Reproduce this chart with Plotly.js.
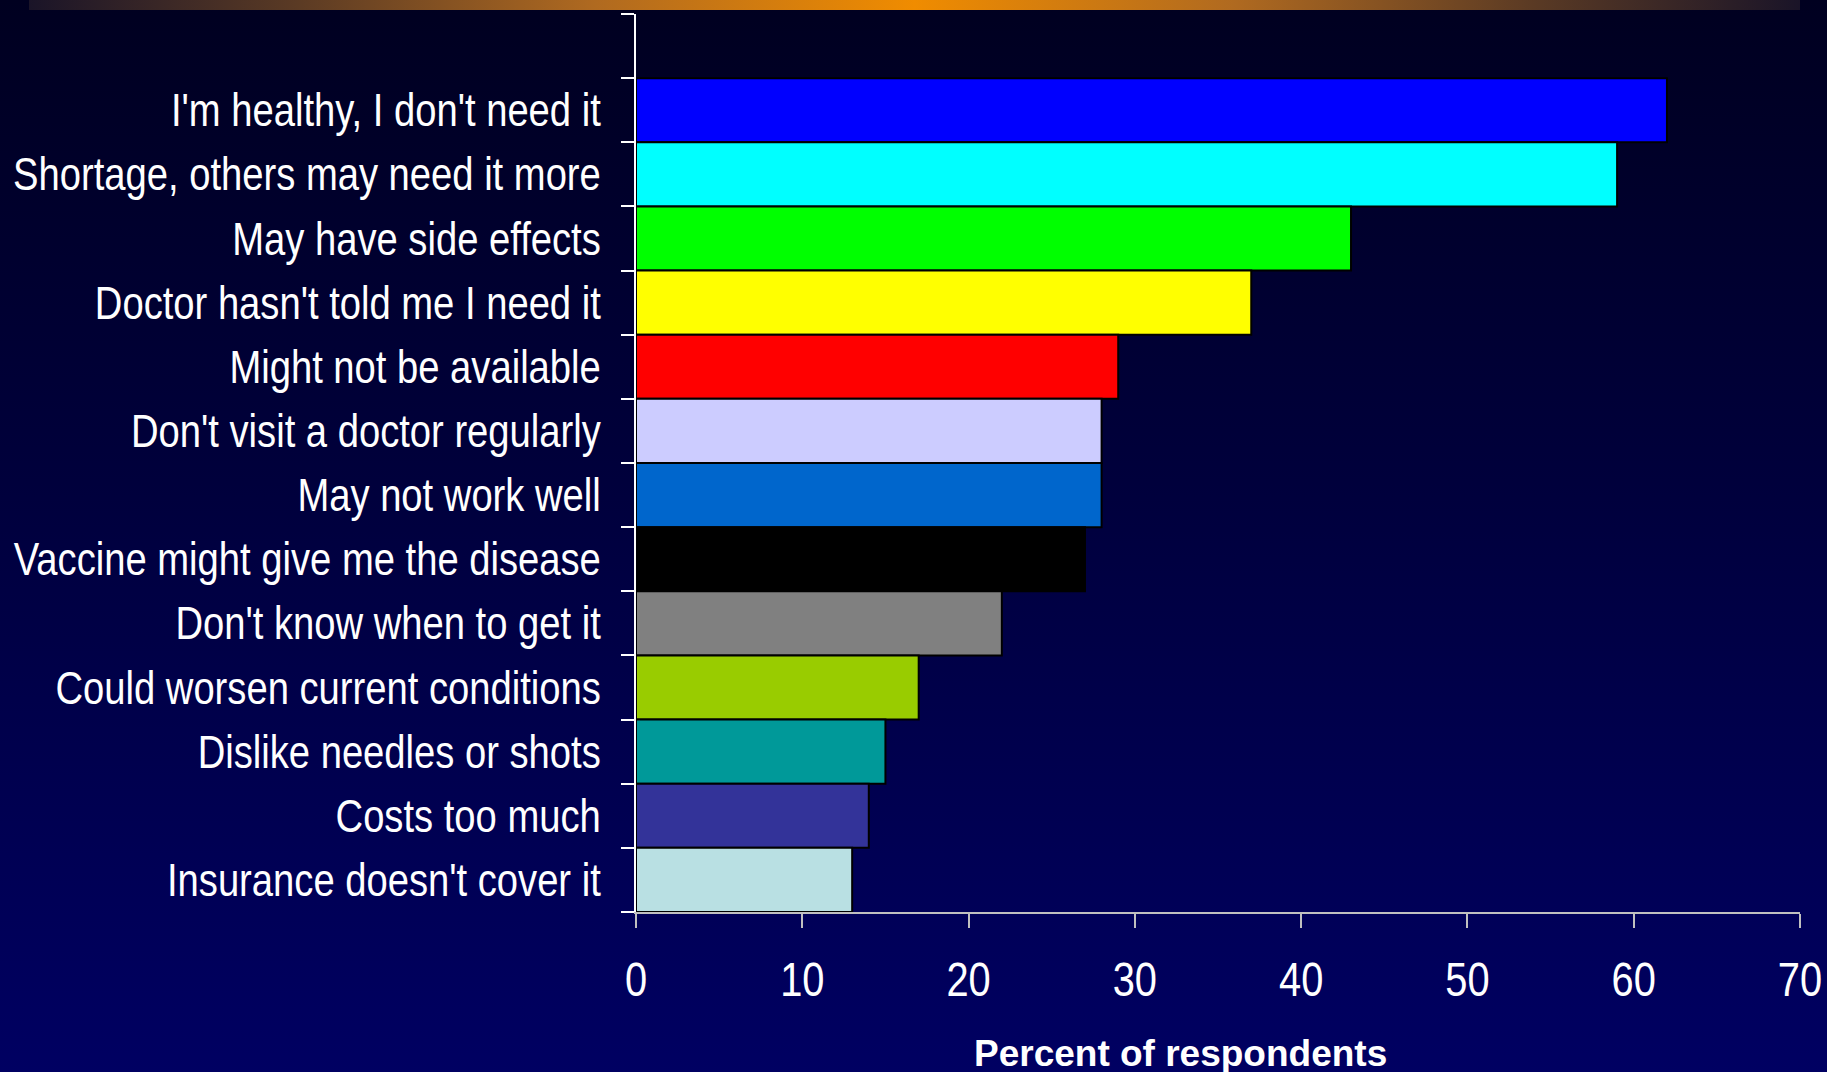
<!DOCTYPE html>
<html>
<head>
<meta charset="utf-8">
<script src="https://cdn.plot.ly/plotly-3.0.1.min.js"></script>
<style>
  html, body { margin:0; padding:0; width:1827px; height:1072px; overflow:hidden; }
  body { background: linear-gradient(to bottom, #000020 0%, #00003c 45%, #000062 100%); position:relative; }
  #topbar { position:absolute; left:29px; top:0; width:1771px; height:10px;
    background: linear-gradient(to right, #1a1428 0%, #5a3a24 15%, #b06a20 32%, #f08c00 50%, #b06a20 68%, #5a3a24 85%, #1a1428 100%); z-index:2; }
  #chart { position:absolute; left:0; top:0; width:1827px; height:1072px; }
</style>
</head>
<body>
<div id="topbar"></div>
<div id="chart"></div>
<script>
const categories = [
  "I'm healthy, I don't need it",
  "Shortage, others may need it more",
  "May have side effects",
  "Doctor hasn't told me I need it",
  "Might not be available",
  "Don't visit a doctor regularly",
  "May not work well",
  "Vaccine might give me the disease",
  "Don't know when to get it",
  "Could worsen current conditions",
  "Dislike needles or shots",
  "Costs too much",
  "Insurance doesn't cover it"
];
const percents = [62, 59, 43, 37, 29, 28, 28, 27, 22, 17, 15, 14, 13];
const barColors = ["#0000ff", "#00ffff", "#00ff00", "#ffff00", "#ff0000", "#ccccff", "#0066cc",
                   "#000000", "#808080", "#99cc00", "#009999", "#333399", "#b9e0e3"];
const xTickVals = [0, 10, 20, 30, 40, 50, 60, 70];
const xAxisTitle = "Percent of respondents";

const n = categories.length;
const yPos = categories.map((c, i) => n - 1 - i);
const boundaries = [];
for (let k = 0; k <= n + 1; k++) boundaries.push(k - 0.5);

const sans = "'Liberation Sans', Arial, sans-serif";
const NARROW = 0.83;

const trace = {
  type: 'bar',
  orientation: 'h',
  x: percents,
  y: yPos,
  width: 1,
  marker: { color: barColors, line: { color: '#000000', width: 2 } },
  hoverinfo: 'skip'
};

const layout = {
  width: 1827, height: 1072,
  paper_bgcolor: 'rgba(0,0,0,0)',
  plot_bgcolor: 'rgba(0,0,0,0)',
  margin: { l: 636, r: 27, t: 14, b: 160, pad: 0 },
  showlegend: false,
  bargap: 0,
  xaxis: {
    range: [0, 70],
    tickvals: xTickVals,
    ticktext: xTickVals.map(String),
    showgrid: false, zeroline: false,
    showline: true, linecolor: '#c0c0c0', linewidth: 2,
    ticks: 'outside', ticklen: 14, tickwidth: 2, tickcolor: '#c0c0c0',
    tickfont: { family: sans, size: 48, color: '#ffffff' },
    ticklabelstandoff: 10
  },
  yaxis: {
    range: [-0.5, n + 0.5],
    tickvals: yPos,
    ticktext: categories,
    showgrid: false, zeroline: false,
    showline: true, linecolor: '#ffffff', linewidth: 2,
    ticks: '', ticklen: 0,
    tickfont: { family: sans, size: 46, color: '#ffffff' },
    ticklabelstandoff: 24,
    minor: { tickvals: boundaries, ticks: 'outside', ticklen: 13, tickwidth: 2, tickcolor: '#ffffff', showgrid: false }
  },
  annotations: [{
    text: '<b>' + xAxisTitle + '</b>',
    xref: 'paper', yref: 'paper',
    x: 0.468, y: -0.158, xanchor: 'center', yanchor: 'middle',
    showarrow: false,
    font: { family: sans, size: 37, color: '#ffffff' }
  }]
};

function narrowLabels() {
  document.querySelectorAll('.xtick text, .ytick text').forEach(t => {
    const x = parseFloat(t.getAttribute('x') || '0');
    const tr = t.getAttribute('data-origtr') !== null ? t.getAttribute('data-origtr') : (t.getAttribute('transform') || '');
    t.setAttribute('data-origtr', tr);
    t.setAttribute('transform', tr + ' translate(' + x + ',0) scale(' + NARROW + ',1) translate(' + (-x) + ',0)');
  });
}

Plotly.newPlot('chart', [trace], layout, { staticPlot: true, displayModeBar: false }).then(narrowLabels);
</script>
</body>
</html>
